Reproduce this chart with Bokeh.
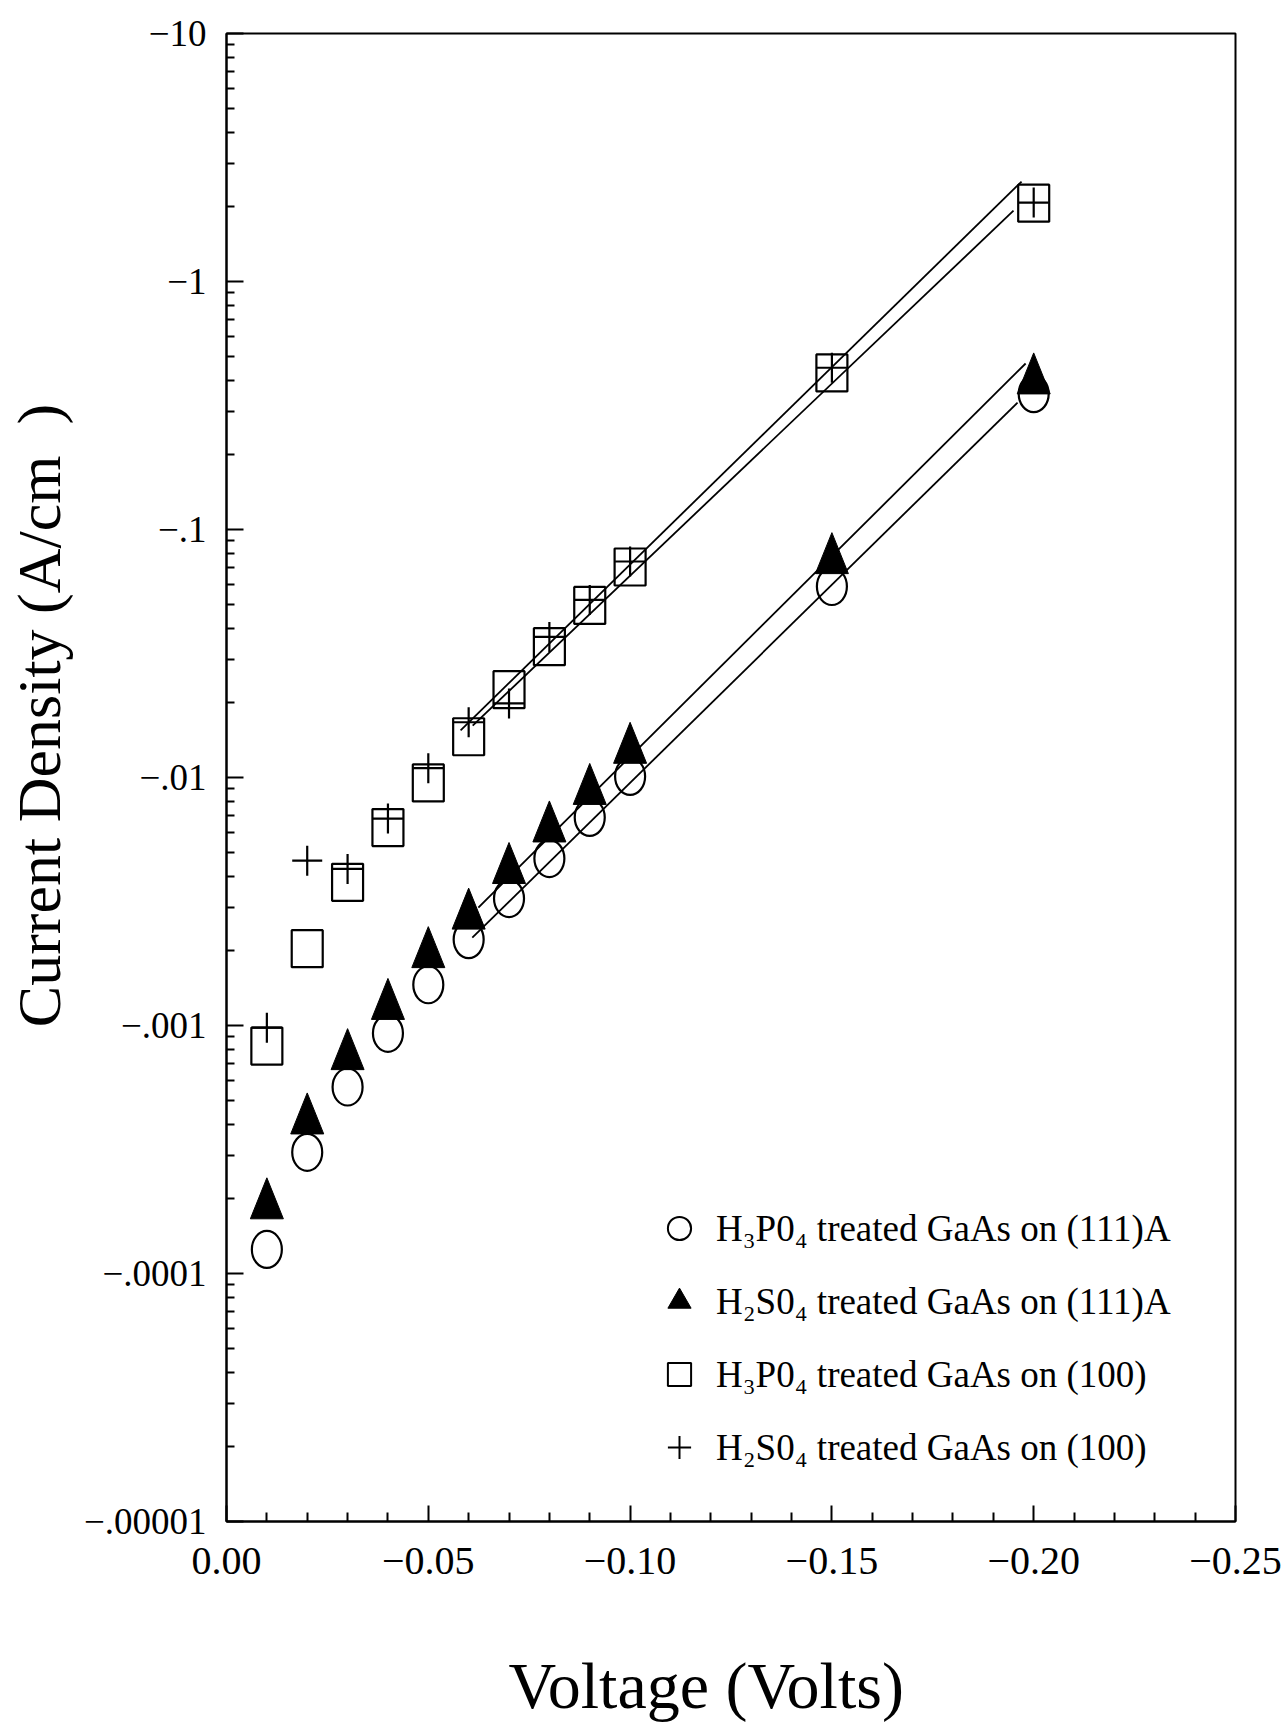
import numpy as np

from bokeh.plotting import figure
from bokeh.models import (ColumnDataSource, FixedTicker, CustomJSTickFormatter,
                          Legend, LegendItem)
from bokeh.embed import file_html
from bokeh.resources import INLINE

# ---- measured data (cathodic sweep, values negative) ----
voltage = [-0.01, -0.02, -0.03, -0.04, -0.05, -0.06, -0.07, -0.08, -0.09, -0.10, -0.15, -0.20]

j_h3po4_111a = [-1.25e-4, -3.08e-4, -5.65e-4, -9.3e-4, -1.46e-3, -2.22e-3,
                -3.25e-3, -4.71e-3, -6.9e-3, -1.01e-2, -5.89e-2, -0.353]
j_h2so4_111a = [-2.01e-4, -4.42e-4, -8.03e-4, -1.28e-3, -2.07e-3, -2.96e-3,
                -4.52e-3, -6.65e-3, -9.42e-3, -1.38e-2, -8.03e-2, -0.426]
j_h3po4_100 = [-8.26e-4, -2.04e-3, -3.78e-3, -6.28e-3, -9.51e-3, -1.46e-2,
               -2.26e-2, -3.37e-2, -4.94e-2, -7.06e-2, -0.428, -2.07]
j_h2so4_100 = [-9.8e-4, -4.62e-3, -4.28e-3, -6.83e-3, -1.09e-2, -1.67e-2,
               -1.99e-2, -3.69e-2, -5.2e-2, -7.43e-2, -0.449, -2.08]

# Tafel fit lines (end points)
fit_v_h2so4_100 = [-0.058, -0.197]
fit_j_h2so4_100 = [-0.0155, -2.53]
fit_v_h3po4_100 = [-0.061, -0.195]
fit_j_h3po4_100 = [-0.0162, -1.93]
fit_v_h2so4_111a = [-0.0624, -0.198]
fit_j_h2so4_111a = [-2.99e-3, -0.467]
fit_v_h3po4_111a = [-0.0609, -0.196]
fit_j_h3po4_111a = [-2.26e-3, -0.325]

series_labels = [
    "H\u2083P0\u2084 treated GaAs on (111)A",
    "H\u2082S0\u2084 treated GaAs on (111)A",
    "H\u2083P0\u2084 treated GaAs on (100)",
    "H\u2082S0\u2084 treated GaAs on (100)",
]

x_ticks = [0.0, 0.05, 0.10, 0.15, 0.20, 0.25]
y_ticks = [1e-5, 1e-4, 1e-3, 1e-2, 1e-1, 1.0, 10.0]

FONT = "Liberation Serif"
NB = "\u00a0"
W, H = 1287, 1726
LEFT, RIGHT, TOP, BOTTOM = 226, 52, 33, 205
FRAME_W = W - LEFT - RIGHT
FRAME_H = H - TOP - BOTTOM
X_RANGE = (0.0, 0.25)
Y_RANGE = (1e-5, 10.0)

p = figure(width=W, height=H, x_range=X_RANGE, y_range=Y_RANGE,
           y_axis_type="log", output_backend="svg", toolbar_location=None,
           min_border_left=LEFT, min_border_right=RIGHT,
           min_border_top=TOP, min_border_bottom=BOTTOM)
p.grid.visible = False
p.background_fill_color = "white"
p.border_fill_color = "white"
p.outline_line_color = "black"
p.outline_line_width = 2

# axes: magnitudes are plotted, labels carry the sign
p.xaxis.ticker = FixedTicker(ticks=x_ticks,
                             minor_ticks=[round(0.01 * k, 2) for k in range(1, 25) if k % 5])
p.xaxis.formatter = CustomJSTickFormatter(
    code='return tick == 0 ? "0.00" : "\u2212" + tick.toFixed(2);')
minor_y = [m * 10.0 ** e for e in range(-5, 1) for m in range(2, 10)]
p.yaxis.ticker = FixedTicker(ticks=y_ticks, minor_ticks=minor_y)
p.yaxis.formatter = CustomJSTickFormatter(code='''
const e = Math.round(Math.log10(tick));
if (e >= 0) return "\u2212" + Math.pow(10, e).toFixed(0);
return "\u2212." + "0".repeat(-e - 1) + "1";
''')

for ax in (p.xaxis[0], p.yaxis[0]):
    ax.axis_line_width = 2
    ax.major_tick_line_width = 2
    ax.minor_tick_line_width = 2
    ax.major_tick_out = 0
    ax.minor_tick_out = 0
    ax.major_label_text_font = FONT
    ax.major_label_text_color = "black"
    ax.axis_label_text_font = FONT
    ax.axis_label_text_font_style = "normal"
    ax.axis_label_text_color = "black"
p.yaxis.major_tick_in = 17
p.yaxis.minor_tick_in = 8
p.xaxis.major_tick_in = 16
p.xaxis.minor_tick_in = 9
p.yaxis.major_label_text_font_size = "37px"
p.xaxis.major_label_text_font_size = "40px"
p.yaxis.major_label_standoff = 20
p.xaxis.major_label_standoff = 26

# axis titles (non-breaking padding nudges them off the frame centre)
p.xaxis.axis_label = "Voltage (Volts)" + NB * 3
p.xaxis.axis_label_text_font_size = "66px"
p.xaxis.axis_label_standoff = 72
p.yaxis.axis_label = NB * 8 + "Current Density (A/cm" + NB * 2 + ")"
p.yaxis.axis_label_text_font_size = "62px"
p.yaxis.axis_label_standoff = 8

v = np.abs(np.array(voltage))

# fit lines
for fv, fj in [(fit_v_h2so4_100, fit_j_h2so4_100), (fit_v_h3po4_100, fit_j_h3po4_100),
               (fit_v_h2so4_111a, fit_j_h2so4_111a), (fit_v_h3po4_111a, fit_j_h3po4_111a)]:
    p.line(np.abs(fv), np.abs(fj), line_color="black", line_width=1.8)

# open ellipses: H3PO4 on (111)A
p.ellipse(x=v, y=np.abs(j_h3po4_111a), width=30, height=37,
          width_units="screen", height_units="screen",
          fill_color=None, line_color="black", line_width=2.2)

# filled triangles: H2SO4 on (111)A (tall isosceles outline, sized in pixels)
px_per_volt = FRAME_W / (X_RANGE[1] - X_RANGE[0])
px_per_decade = FRAME_H / (np.log10(Y_RANGE[1]) - np.log10(Y_RANGE[0]))
half_w = 16.5 / px_per_volt
half_h = 10 ** (20.5 / px_per_decade)
jt = np.abs(j_h2so4_111a)
tri_xs = [[xi - half_w, xi, xi + half_w] for xi in v]
tri_ys = [[yi / half_h, yi * half_h, yi / half_h] for yi in jt]
p.patches(tri_xs, tri_ys, fill_color="black", line_color="black", line_width=1)

# open squares: H3PO4 on (100)
p.rect(x=v, y=np.abs(j_h3po4_100), width=31, height=37,
       width_units="screen", height_units="screen",
       fill_color=None, line_color="black", line_width=2.2)

# crosses: H2SO4 on (100)
p.scatter(x=v, y=np.abs(j_h2so4_100), marker="cross", size=30,
          line_color="black", line_width=2.2)

# legend keys: one undrawn (NaN) point each, only used for the legend swatch
key = dict(x=[np.nan], y=[np.nan])
key_circle = p.scatter(source=ColumnDataSource(key), marker="circle",
                       fill_color=None, line_color="black", line_width=2)
key_tri = p.scatter(source=ColumnDataSource(key), marker="triangle",
                    fill_color="black", line_color="black", line_width=1)
key_sq = p.scatter(source=ColumnDataSource(key), marker="square",
                   fill_color=None, line_color="black", line_width=2)
key_cross = p.scatter(source=ColumnDataSource(key), marker="cross",
                      line_color="black", line_width=2)

legend = Legend(items=[LegendItem(label=series_labels[0], renderers=[key_circle]),
                       LegendItem(label=series_labels[1], renderers=[key_tri]),
                       LegendItem(label=series_labels[2], renderers=[key_sq]),
                       LegendItem(label=series_labels[3], renderers=[key_cross])],
                location=(424, 45), padding=0, margin=0, spacing=15,
                glyph_width=58, glyph_height=58, label_height=58,
                label_standoff=8, label_text_font=FONT,
                label_text_font_size="37px", label_text_color="black",
                border_line_alpha=0, background_fill_alpha=0)
p.add_layout(legend)

open("out.html", "w").write(file_html(p, INLINE))
